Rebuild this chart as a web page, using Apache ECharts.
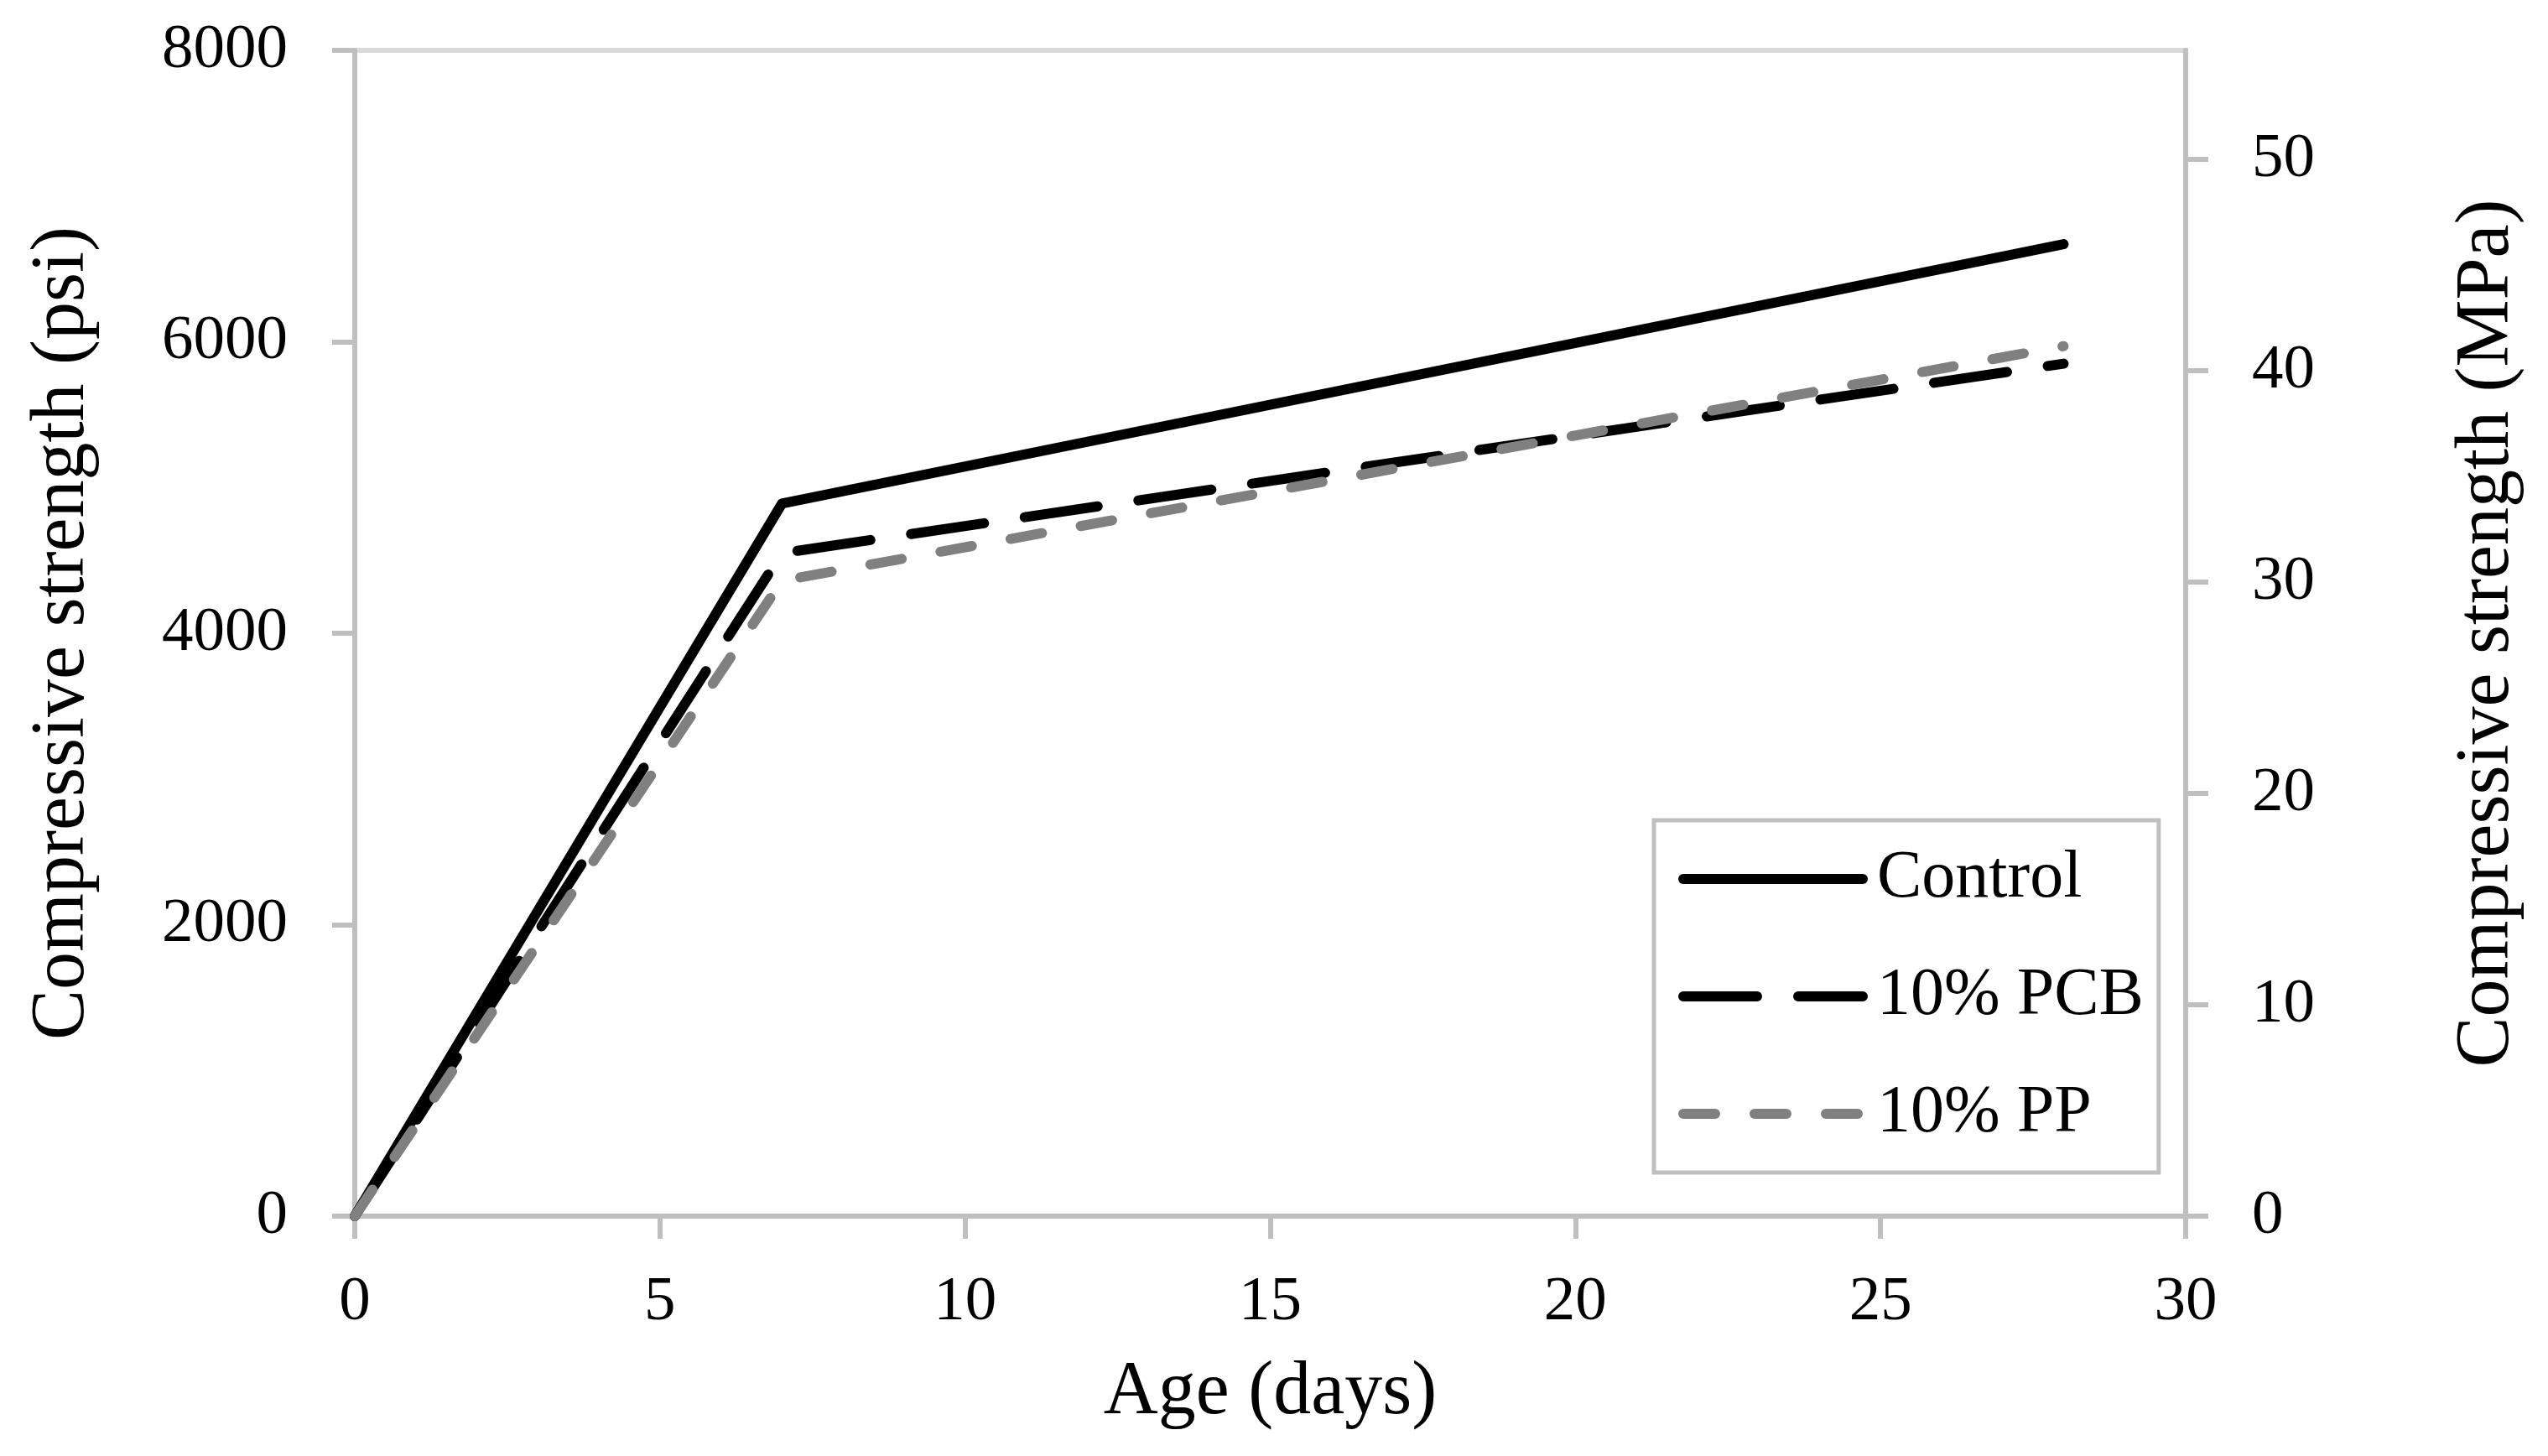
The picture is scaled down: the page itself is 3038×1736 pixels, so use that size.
<!DOCTYPE html>
<html>
<head>
<meta charset="utf-8">
<script src="https://cdn.jsdelivr.net/npm/echarts@6/dist/echarts.min.js"></script>
<style>
html,body{margin:0;padding:0;background:#fff;}
#chart{width:3038px;height:1736px;}
</style>
</head>
<body>
<div id="chart"></div>
<script>
// Data
const ageDays = [0, 7, 28];
const controlPsi = [0, 4890, 6670];
const pcbPsi = [0, 4550, 5850];
const ppPsi = [0, 4360, 5970];
const seriesNames = ['Control', '10% PCB', '10% PP'];
const psiTicks = [0, 2000, 4000, 6000, 8000];
const mpaTicks = [0, 10, 20, 30, 40, 50];
const dayTicks = [0, 5, 10, 15, 20, 25, 30];
const PSI_PER_MPA = 145.038;
const PSI_MAX = 8000;

function pairs(xs, ys) { return xs.map((x, i) => [x, ys[i]]); }

const FONT = 'Liberation Serif';
const AXIS_COLOR = '#BFBFBF';

const chart = echarts.init(document.getElementById('chart'));
chart.setOption({
  backgroundColor: '#fff',
  animation: false,
  grid: {
    left: 423, right: 432, top: 60, bottom: 286,
    show: true, borderColor: '#D9D9D9', borderWidth: 6, backgroundColor: 'transparent'
  },
  legend: {
    orient: 'vertical',
    left: 1972, top: 978,
    backgroundColor: '#fff',
    borderColor: AXIS_COLOR, borderWidth: 5,
    padding: [28, 18, 28, 29],
    itemWidth: 214, itemHeight: 30, itemGap: 56,
    lineStyle: { width: 12 },
    itemStyle: { opacity: 0 },
    textStyle: { fontFamily: FONT, fontSize: 80, lineHeight: 84, color: '#000', padding: [0, 0, 0, 12] },
    data: seriesNames
  },
  xAxis: {
    type: 'value', min: dayTicks[0], max: dayTicks[dayTicks.length - 1], interval: 5,
    name: 'Age (days)', nameLocation: 'middle', nameGap: 166,
    nameTextStyle: { fontFamily: FONT, fontSize: 90, color: '#000' },
    axisLine: { show: true, onZero: false, lineStyle: { color: AXIS_COLOR, width: 6 } },
    axisTick: { show: true, length: 27, lineStyle: { color: AXIS_COLOR, width: 6 } },
    axisLabel: { fontFamily: FONT, fontSize: 75, color: '#000', margin: 66 },
    splitLine: { show: false }
  },
  yAxis: [
    {
      type: 'value', min: psiTicks[0], max: PSI_MAX, interval: 2000, position: 'left',
      name: 'Compressive strength (psi)', nameLocation: 'middle', nameGap: 303, nameRotate: 90,
      nameTextStyle: { fontFamily: FONT, fontSize: 90, color: '#000' },
      axisLine: { show: true, onZero: false, lineStyle: { color: AXIS_COLOR, width: 6 } },
      axisTick: { show: true, length: 27, lineStyle: { color: AXIS_COLOR, width: 6 } },
      axisLabel: { fontFamily: FONT, fontSize: 75, color: '#000', margin: 80, formatter: v => String(v) },
      splitLine: { show: false }
    },
    {
      type: 'value', min: 0, max: PSI_MAX / PSI_PER_MPA, interval: 10, position: 'right',
      name: 'Compressive strength (MPa)', nameLocation: 'middle', nameGap: 315, nameRotate: 90,
      nameTextStyle: { fontFamily: FONT, fontSize: 90, color: '#000' },
      axisLine: { show: true, onZero: false, lineStyle: { color: AXIS_COLOR, width: 6 } },
      axisTick: { show: true, length: 27, customValues: mpaTicks, lineStyle: { color: AXIS_COLOR, width: 6 } },
      axisLabel: { fontFamily: FONT, fontSize: 75, color: '#000', margin: 79, customValues: mpaTicks },
      splitLine: { show: false }
    }
  ],
  series: [
    {
      name: seriesNames[0], type: 'line', yAxisIndex: 0, data: pairs(ageDays, controlPsi),
      symbol: 'none', lineStyle: { color: '#000', width: 12, cap: 'round', join: 'round' },
      itemStyle: { color: '#000' }
    },
    {
      name: seriesNames[1], type: 'line', yAxisIndex: 0, data: pairs(ageDays, pcbPsi),
      symbol: 'none', lineStyle: { color: '#000', width: 12, type: [88, 49], cap: 'round', join: 'round' },
      itemStyle: { color: '#000' }
    },
    {
      name: seriesNames[2], type: 'line', yAxisIndex: 0, data: pairs(ageDays, ppPsi),
      symbol: 'none', lineStyle: { color: '#808080', width: 12, type: [38, 47], cap: 'round', join: 'round' },
      itemStyle: { color: '#808080' }
    }
  ]
});
</script>
</body>
</html>
